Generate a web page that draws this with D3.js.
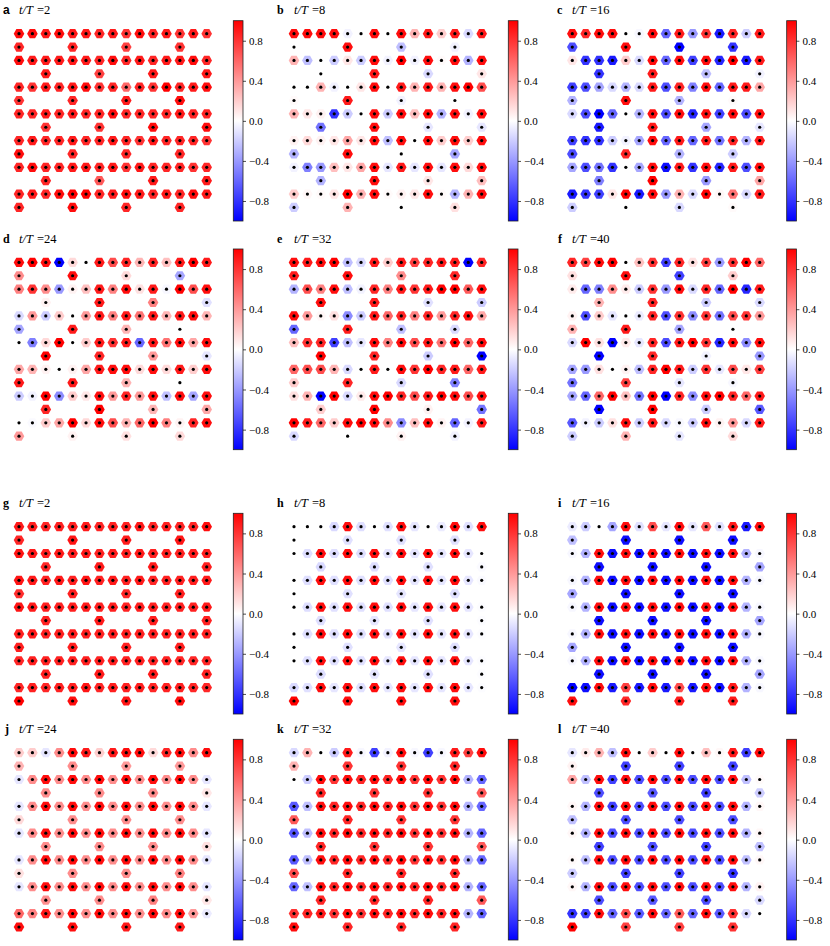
<!DOCTYPE html>
<meta charset="utf-8">
<html>
<head>
  <script src="https://d3js.org/d3.v7.min.js"></script>
  <style>
    body { margin: 0; background: white; }
    .cbar text { font-family: 'Liberation Serif', serif; font-size: 11px; fill: black; }
    .cbar path { display: none; }
    .cbar line { stroke: black; stroke-width: 0.7; }
    .time { font-family: 'Liberation Serif', serif; font-size: 12.5px; }
    .time .it { font-style: italic; }
    .lab { font-family: 'Liberation Serif', serif; font-weight: bold; font-size: 12px; }
  </style>
</head>
<body>
  <script>
    //Panel labels and times
    var labels = ["a", "b", "c", "d", "e", "f", "g", "h", "i", "j", "k", "l"];
    var times = [2, 8, 16, 24, 32, 40, 2, 8, 16, 24, 32, 40];
    var cbarTicks = [0.8, 0.4, 0, -0.4, -0.8];

    //Site values, lattice row by row (full rows 15 sites, short rows 4 sites)
    var a = [
      .95,.95,.9,.95,.9,.9,.85,.9,.8,.95,.85,.9,.8,.9,.8,
      .85,.85,.75,.8,
      .95,.9,.9,.9,.9,.9,.85,.95,.85,.9,.85,.9,.9,.95,.85,
      .9,.75,.9,.9,
      .85,.8,.9,.85,.9,.95,.8,.85,.6,.85,.8,1,.85,.9,.95,
      .8,.85,.9,.95,
      .85,.85,.9,.85,.9,.85,.85,.95,.85,.85,.85,.85,.9,.85,.85,
      .8,.8,.95,.95,
      .85,.9,.85,.85,.9,.85,.85,.9,.85,.8,.9,.85,.85,.85,.8,
      .95,.85,.85,.85,
      .85,.95,.85,.85,.9,.9,.85,.9,.8,.9,.85,.85,.85,.8,.85,
      .85,.65,.9,.9,
      .85,.9,.85,.95,1,1,.85,.9,.95,.9,.85,.9,.85,.95,.9,
      .85,.95,.85,.85
    ];
    var b = [
      .95,.95,.95,.95,-.05,0,.95,0,.95,.3,.9,.2,.9,-.15,.9,
      0,.95,-.25,-.05,
      .3,-.25,0,-.2,.1,-.2,.95,-.05,1,-.05,.95,.02,.95,-.3,.95,
      0,.9,-.15,.1,
      0,0,.3,-.05,0,.1,.95,0,.9,.3,.9,.3,.95,1,.7,
      .02,.9,-.05,0,
      .3,.1,.05,-.8,-.2,0,.95,-.2,.95,.25,.95,-.3,.95,-.05,.95,
      -.55,.95,-.1,-.1,
      .05,.15,.05,.1,.35,.1,.95,-.25,.95,0,.95,.2,.95,.2,.95,
      -.3,.95,0,-.35,
      -.05,-.5,-.4,.25,.1,.35,.95,-.1,.9,-.1,.95,-.1,.95,.15,.95,
      -.3,.95,.1,.25,
      .2,.03,.02,.1,1,.3,.95,.02,.05,.1,.95,.02,-.3,.3,.95,
      -.2,.3,0,.12
    ];
    var c = [
      .95,.85,.95,.95,0,-.03,.95,-.6,.9,-.4,.8,-.9,.85,-.2,.9,
      -.7,.95,-1,-.8,
      .1,-.8,-.8,-.9,.2,-.15,.95,-.6,.95,-.75,.95,-.85,1,-.9,.9,
      -.8,.9,-.25,-.05,
      -.75,-.7,-.35,-.15,-.3,-.15,.9,-.7,.85,-.5,.95,-.6,.9,.9,.35,
      -.3,.95,-.3,.02,
      -.15,-.7,-1,-.6,0,-.3,.95,-.7,.95,-.85,.95,-.75,.95,-.7,.95,
      -.9,.9,-.35,-.1,
      -.75,-.8,-.8,-.2,-.05,-.35,.95,-.6,.9,-.6,.9,-.55,.85,-.3,.9,
      -.7,.85,-.3,-.2,
      -.35,-.7,-.55,-.8,0,-.35,.95,-.95,.9,-.8,.95,-.85,.9,-.7,.95,
      -.5,1,-.4,.35,
      -.9,-.8,-.75,.1,1,-.9,.95,-.4,.3,-.15,1,.03,.55,-.15,.9,
      -.2,0,-.15,.02
    ];
    var d = [
      .95,1,.95,-1,.15,0,.9,.7,.85,.3,.85,.25,.9,1,.9,
      .45,.95,.15,-.35,
      .5,.8,.45,-.4,.05,.25,.9,.5,.95,.12,.9,-.03,1,.7,.95,
      .05,.9,.5,-.12,
      -.15,.4,-.2,.2,0,.4,.9,.5,.9,.55,.9,.3,.9,.95,.3,
      -.35,.9,.3,0,
      0,-.5,.15,1,0,.2,.9,.8,.9,-.6,.9,.55,.95,.35,.95,
      1,.85,.4,-.1,
      .35,.3,.05,0,.05,.35,.9,.95,.95,.15,.95,.15,.9,.2,.95,
      .9,.9,.3,0,
      -.2,-.05,1,-.45,.2,.1,.95,.4,.85,.4,.95,-.25,.95,-.35,.95,
      .85,1,.3,.35,
      0,-.02,.2,.35,1,.15,.95,.7,.3,.6,1,.5,.05,.85,.95,
      .4,.05,.12,.15
    ];
    var e = [
      .95,.9,.95,1,-.25,-.15,.9,.2,.9,.75,.85,.9,.9,-1,.85,
      .9,.95,.45,.85,
      -.3,.7,.5,.95,-.25,-.05,.85,.5,.9,.8,.9,1,1,.65,.95,
      .95,.9,-.12,-.2,
      .95,.4,.03,.12,-.45,-.2,.9,.6,.85,.5,.85,.4,.85,.95,.35,
      -.6,.9,-.25,-.15,
      .25,.8,.85,-.75,-.25,-.1,.95,.5,.95,.7,.9,.55,1,.6,.95,
      1,.85,-.2,-1,
      .6,.7,.7,.3,-.15,0,.9,0,.95,.8,1,.85,.9,.6,.9,
      .2,.85,-.15,-.5,
      .12,.3,-1,1,-.15,.08,.95,1,.85,.7,.9,1,.95,.7,.95,
      .2,1,.05,-.55,
      1,.9,.6,.2,.95,1,.95,.45,-.45,.25,.95,.05,-.6,-.05,.9,
      -.15,0,.05,-.05
    ];
    var f = [
      .85,.75,.95,1,0,.25,.8,-.75,.85,.12,.75,-.4,.8,1,.6,
      .12,.95,-.75,.2,
      .08,-.6,-.5,.45,.08,-.2,.8,-.4,.95,-.15,.85,-.6,1,-.85,.9,
      .3,.85,-.2,-.15,
      .05,-.7,.2,-.1,0,-.08,.85,-.7,.8,-.45,.8,-.55,.7,.8,.4,
      .3,.9,-.35,0,
      -.15,1,.12,-1,.08,-.1,.85,-.7,.9,1,.8,-.85,.95,-.45,.95,
      -1,.85,-.05,-.4,
      -.35,-.4,.12,0,.05,-.25,.85,1,.9,-.2,.8,-.1,.7,.1,.75,
      -.55,.75,-.1,-.03,
      -.35,-.6,.6,1,.25,-.55,1,-1,.85,-.45,.95,1,.85,.6,.9,
      -1,1,-.2,-.65,
      -.65,-.05,-.2,.12,.95,-.2,.9,-.15,-.03,-.2,.95,.05,.4,-.15,.9,
      -.2,.3,-.1,.15
    ];
    var g = [
      .9,.88,.85,.87,.87,.9,.85,.87,.87,.9,.85,.87,.85,.85,.95,
      .85,.92,.9,.92,
      .92,.9,.87,.9,.88,.9,.87,.88,.87,.9,.87,.87,.87,.88,.88,
      .85,.9,.9,.88,
      .92,.9,.87,.9,.87,.92,.87,.9,.87,.9,.85,.87,.87,.88,.9,
      .82,.88,.85,.88,
      .92,.9,.88,.87,.88,.9,.87,.88,.87,.88,.87,.87,.87,.87,.9,
      .87,.9,.88,.87,
      .88,.9,.87,.88,.88,.88,.87,.88,.87,.88,.87,.87,.87,.87,.87,
      .88,.88,.87,.88,
      .85,.88,.87,.87,.87,.88,.87,.87,.87,.87,.85,.87,.85,.85,.85,
      .88,.9,.9,.87,
      .85,.87,.85,.87,.87,.92,.85,.88,.87,.88,.85,.87,.87,.85,.85,
      1,.95,.92,.95
    ];
    var h = [
      0,0,0,-.15,.95,-.13,0,-.12,.95,-.1,0,-.08,.95,-.12,.95,
      0,-.12,-.12,-.12,
      0,-.13,.95,-.13,.95,-.13,.95,-.1,.95,-.1,.95,-.1,.95,-.1,0,
      -.15,-.13,-.12,-.02,
      0,-.13,.95,-.12,.95,-.12,.95,-.12,.95,-.1,.95,-.1,.95,-.1,-.02,
      0,-.12,-.1,-.12,
      0,-.13,.95,-.12,.95,-.12,.95,-.12,.95,-.1,.95,-.1,.95,-.1,-.01,
      -.13,-.1,-.12,-.01,
      0,-.12,.95,-.12,.95,-.12,.95,-.12,.95,-.1,.95,-.1,.95,-.1,-.01,
      0,-.12,-.1,-.12,
      0,-.12,.95,-.12,.95,-.12,.95,-.1,.95,-.1,.95,-.1,.95,-.1,-.01,
      -.13,-.1,-.12,-.01,
      -.15,-.12,.95,-.1,.95,-.12,.95,-.1,.95,-.1,.95,-.1,.95,-.1,-.01,
      1,.95,.95,.95
    ];
    var i = [
      -.08,-.2,0,-.35,.95,-.12,.7,-.1,.95,-.1,.65,-.12,.9,-.9,.95,
      -.25,-.95,-.95,-.95,
      -.03,-.3,.95,-.95,.95,-.95,.95,-.95,.95,-.95,.95,-.95,.95,-.3,-.03,
      -.95,-.95,-.95,-.35,
      -.03,-.3,.95,-.95,.95,-.95,.95,-.95,.95,-.95,.95,-.95,.95,-.3,-.03,
      -.35,-.95,-.95,-.95,
      -.03,-.3,.95,-.95,.95,-.95,.95,-.95,.95,-.95,.95,-.95,.95,-.3,-.03,
      -.95,-.95,-.95,-.35,
      -.03,-.3,.95,-.95,.95,-.95,.95,-.95,.95,-.95,.95,-.95,.95,-.3,-.03,
      -.35,-.95,-.95,-.95,
      -.03,-.3,.95,-.95,.95,-.95,.95,-.95,.95,-.95,.95,-.95,.95,-.3,-.03,
      -.95,-.95,-.95,-.35,
      -1,-.95,.95,-.9,.75,-.9,.95,-.9,.7,-.9,.95,-.95,.9,-.3,-.03,
      .95,.85,.9,.9
    ];
    var j = [
      .2,.2,-.1,.45,.95,.9,.2,.9,.95,.95,.15,.85,.95,.45,.95,
      .3,.45,.4,.4,
      -.1,.45,.95,.45,.95,.45,.95,.45,.95,.45,.95,.45,.95,.45,-.1,
      .45,.45,.45,.1,
      -.1,.45,.95,.45,.95,.45,.95,.45,.95,.45,.95,.45,.95,.45,-.1,
      .15,.45,.45,.45,
      -.1,.45,.95,.45,.95,.45,.95,.45,.95,.45,.95,.45,.95,.45,-.1,
      .45,.45,.45,.12,
      -.1,.45,.95,.45,.95,.45,.95,.45,.95,.45,.95,.45,.95,.45,-.1,
      .12,.45,.45,.5,
      -.1,.45,.95,.45,.95,.45,.95,.45,.95,.45,.95,.45,.95,.45,-.1,
      .45,.45,.5,.1,
      .6,.5,.9,.45,.95,.45,.95,.45,.95,.45,.95,.45,.95,.4,-.08,
      .95,.95,.9,.9
    ];
    var k = [
      -.15,.3,0,-.2,.9,-.03,-.75,-.05,.95,-.03,-.75,-.03,.9,.75,.95,
      .3,.8,.8,.85,
      0,-.2,.95,.8,.95,.85,.95,.85,.95,.8,.95,.8,.95,-.3,-.6,
      .85,.8,.8,.65,
      -.65,-.25,.95,.85,.95,.85,.95,.85,.95,.8,.95,.8,.95,-.3,-.6,
      .65,.85,.8,.8,
      -.65,-.25,.95,.85,.95,.85,.95,.85,.95,.8,.95,.8,.95,-.3,-.6,
      .85,.8,.8,.65,
      -.65,-.25,.95,.85,.95,.85,.95,.85,.95,.8,.95,.8,.95,-.3,-.6,
      .7,.85,.85,.85,
      -.6,-.25,.95,.85,.95,.85,.95,.85,.95,.85,.95,.85,.95,-.3,-.6,
      .85,.85,.85,.65,
      .8,.85,.9,.8,.95,.8,.95,.85,.95,.85,.95,.85,.95,-.3,-.6,
      .95,.85,.85,.85
    ];
    var l = [
      -.1,.08,.3,-.25,.95,0,.2,0,.95,0,.25,.03,.9,-.75,.95,
      .05,-.75,-.75,-.75,
      .35,-.25,.95,-.75,.95,-.7,.95,-.7,.95,-.7,.95,-.7,.95,-.25,.02,
      -.7,-.65,-.75,-.2,
      .03,-.3,.95,-.75,.95,-.7,.95,-.7,.95,-.7,.95,-.7,.95,-.3,.03,
      -.25,-.7,-.7,-.7,
      .03,-.3,.95,-.7,.95,-.7,.95,-.7,.95,-.7,.95,-.7,.95,-.3,.03,
      -.75,-.7,-.75,-.25,
      .02,-.25,.95,-.7,.95,-.7,.95,-.7,.95,-.7,.95,-.7,.95,-.25,.03,
      -.2,-.75,-.75,-.8,
      .03,-.3,.95,-.7,.95,-.7,.95,-.7,.95,-.7,.95,-.7,.95,-.3,.05,
      -.7,-.65,-.7,-.15,
      -.8,-.75,.95,-.6,.7,-.65,.95,-.6,.65,-.6,.95,-.65,.8,-.15,0,
      1,.75,.75,.8
    ];
    var panelValues = [a, b, c, d, e, f, g, h, i, j, k, l];

    //Lattice: short rows alternate between these column sets
    var allCols = d3.range(15);
    var shortA = [0, 4, 8, 12];
    var shortB = [2, 6, 10, 14];

    function latticeSites() {
      var sites = [];
      d3.range(14).forEach(function (r) {
        var cols = r % 2 == 0 ? allCols : (r % 4 == 1 ? shortA : shortB);
        cols.forEach(function (q) { sites.push({ r: r, q: q }); });
      });
      return sites;
    }
    var sites = latticeSites();

    //Page layout
    var colX = [[19, 206.7], [294, 481.7], [572.3, 759.7]];
    var cbarX = [233.3, 508.3, 786.7];
    var labelX = [3, 277, 557, 3, 277, 558, 3, 277, 558, 5, 277, 558];
    var rowY = [[33.7, 207.4], [262.4, 436.2], [526.7, 701], [752.7, 927]];
    var cbarY = [[20.7, 221], [249, 449.7], [513.3, 714], [739.3, 940]];
    var titleY = [14, 243, 507, 733];
    var timeX = [19, 294, 572];

    var color = d3.scaleLinear()
      .domain([-1, 0, 1])
      .range(["#0000ff", "#ffffff", "#ff0000"]);

    var svg = d3.select("body")
      .append("svg")
      .attr("width", 830)
      .attr("height", 946);

    //Colorbar gradient
    var grad = svg.append("defs").append("linearGradient")
      .attr("id", "bwr")
      .attr("x1", 0).attr("x2", 0).attr("y1", 1).attr("y2", 0);
    grad.selectAll("stop")
      .data([-1, 0, 1])
      .enter()
      .append("stop")
      .attr("offset", v => (v + 1) / 2)
      .attr("stop-color", v => color(v));

    //Flat-topped hexagon marker
    var hex = d3.lineRadial()
      .curve(d3.curveLinearClosed)(d3.range(6).map(n => [Math.PI / 6 + n * Math.PI / 3, 5.3]));

    panelValues.forEach(function (values, n) {
      var col = n % 3, row = Math.floor(n / 3);
      var x = d3.scaleLinear().domain([0, 14]).range(colX[col]);
      var y = d3.scaleLinear().domain([0, 13]).range(rowY[row]);
      var cy = d3.scaleLinear().domain([-1, 1]).range([cbarY[row][1], cbarY[row][0]]);
      var p = svg.append("g");

      //Panel label and time
      p.append("text")
        .attr("class", "lab")
        .attr("x", labelX[n])
        .attr("y", titleY[row])
        .style("font-family", n == 0 ? "'Liberation Sans', sans-serif" : null)
        .text(labels[n]);
      var t = p.append("text")
        .attr("class", "time")
        .attr("x", timeX[col])
        .attr("y", titleY[row]);
      t.append("tspan").attr("class", "it").text("t/T");
      t.append("tspan").attr("dx", 4).text("=" + times[n]);

      //Sites
      var site = p.selectAll("g.site")
        .data(sites)
        .enter()
        .append("g")
        .attr("class", "site")
        .attr("transform", s => `translate(${x(s.q)}, ${y(s.r)})`);
      site.append("path")
        .attr("d", hex)
        .attr("fill", (s, m) => color(values[m]));
      site.append("circle")
        .attr("r", 1.6)
        .attr("fill", "black");

      //Colorbar
      p.append("rect")
        .attr("x", cbarX[col])
        .attr("y", cbarY[row][0])
        .attr("width", 9.7)
        .attr("height", cbarY[row][1] - cbarY[row][0])
        .attr("fill", "url(#bwr)")
        .attr("stroke", "#222")
        .attr("stroke-width", 0.8);
      p.append("g")
        .attr("class", "cbar")
        .attr("transform", `translate(${cbarX[col] + 9.7}, 0)`)
        .call(d3.axisRight(cy)
          .tickValues(cbarTicks)
          .tickSize(3)
          .tickPadding(3)
          .tickFormat(d3.format(".1f")));
    });
  </script>
</body>
</html>
